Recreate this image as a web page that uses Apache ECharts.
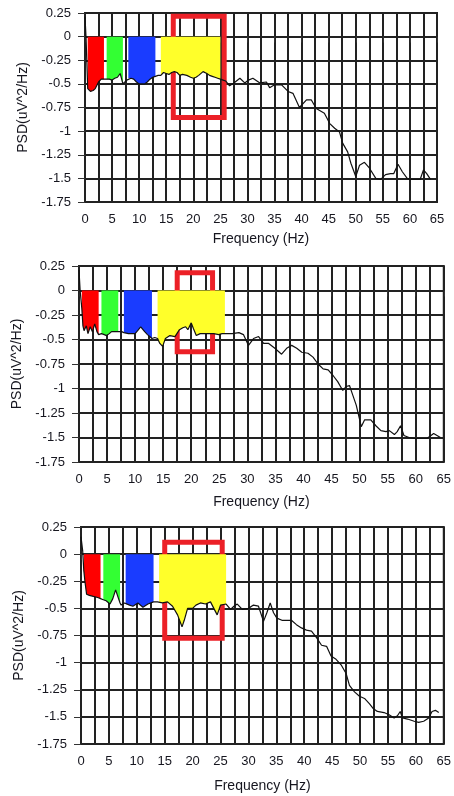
<!DOCTYPE html>
<html>
<head>
<meta charset="utf-8">
<script src="https://cdn.jsdelivr.net/npm/echarts@6/dist/echarts.min.js"></script>
<style>
  html, body { margin: 0; padding: 0; background: #fff; }
  #chart { width: 454px; height: 796px; }
</style>
</head>
<body>
<div id="chart"></div>
<script>
// PSD curves, [frequency Hz, PSD]
const psdTop = [
  [0, 0.21], [0.2, -0.02], [0.5, -0.55], [1, -0.58], [1.5, -0.57], [1.9, -0.55], [2.5, -0.48], [3, -0.45],
  [3.5, -0.45], [4, -0.45], [4.5, -0.45], [5, -0.46], [5.5, -0.44], [6, -0.43], [6.5, -0.39], [7, -0.5],
  [7.3, -0.52], [7.7, -0.46], [8, -0.44], [8.5, -0.44], [9, -0.45], [9.5, -0.48], [10, -0.5], [10.5, -0.5],
  [11, -0.5], [11.5, -0.48], [12, -0.45], [12.5, -0.43], [13, -0.42], [13.5, -0.41], [14, -0.41], [14.5, -0.38],
  [15, -0.39], [15.5, -0.4], [16, -0.38], [16.5, -0.37], [17, -0.38], [17.5, -0.41], [18, -0.4], [18.8, -0.41],
  [19.5, -0.43], [20, -0.44], [20.5, -0.43], [21, -0.41], [21.8, -0.37], [22.5, -0.39], [23, -0.41], [23.5, -0.42],
  [24, -0.43], [24.5, -0.44], [25, -0.45], [25.5, -0.46], [26, -0.47], [26.7, -0.52], [27.5, -0.49], [28.6, -0.44],
  [29.5, -0.49], [30.2, -0.46], [31, -0.44], [32.3, -0.49], [33.5, -0.48], [34.1, -0.54], [35, -0.51], [36.3, -0.51],
  [37.5, -0.58], [38.4, -0.6], [39.6, -0.75], [40.9, -0.67], [41.8, -0.67], [42.7, -0.76], [44.2, -0.81], [45.2, -0.92],
  [46.1, -0.97], [47, -1.01], [47.6, -1.13], [48.5, -1.22], [49.1, -1.34], [50, -1.48], [50.7, -1.36], [51.6, -1.33],
  [52.5, -1.39], [53.7, -1.5], [54.6, -1.51], [55.5, -1.46], [56.4, -1.45], [57, -1.45], [57.8, -1.35], [58.6, -1.43],
  [59.5, -1.5], [60.1, -1.51], [61.9, -1.51], [62.5, -1.41], [63.1, -1.45], [63.8, -1.51]
];
const psdMid = [
  [0, 0.21], [0.2, 0], [0.5, -0.18], [0.7, -0.36], [0.9, -0.41], [1.3, -0.36], [1.6, -0.44], [2, -0.37],
  [2.4, -0.42], [2.8, -0.34], [3.2, -0.42], [3.5, -0.45], [4, -0.44], [4.5, -0.45], [4.9, -0.46], [5.4, -0.44],
  [5.8, -0.42], [6.3, -0.42], [7, -0.42], [7.6, -0.42], [8, -0.43], [8.8, -0.44], [9.5, -0.44], [10, -0.44],
  [10.6, -0.4], [11, -0.37], [11.7, -0.42], [12.2, -0.45], [12.6, -0.47], [13, -0.49], [13.5, -0.48], [14, -0.49],
  [14.4, -0.54], [14.9, -0.57], [15.4, -0.49], [16.2, -0.46], [17.1, -0.47], [17.9, -0.4], [18.5, -0.38], [19, -0.37],
  [19.4, -0.4], [20, -0.33], [20.4, -0.39], [20.9, -0.46], [21.6, -0.44], [22.9, -0.44], [24, -0.44], [24.9, -0.45],
  [25.5, -0.44], [26, -0.44], [27.3, -0.44], [28.5, -0.43], [29.3, -0.45], [30.2, -0.56], [31.1, -0.49], [32, -0.47],
  [32.9, -0.54], [33.8, -0.54], [34.9, -0.59], [36.1, -0.65], [37, -0.59], [37.9, -0.56], [38.8, -0.59], [39.7, -0.63],
  [40.8, -0.64], [41.7, -0.68], [42.6, -0.75], [43.5, -0.8], [44.4, -0.81], [45.3, -0.87], [46.1, -0.93], [47, -1.02],
  [47.6, -0.98], [48.2, -0.97], [48.8, -1.07], [49.4, -1.17], [50.3, -1.39], [50.9, -1.32], [52, -1.32], [52.9, -1.38],
  [53.8, -1.43], [54.7, -1.44], [55.3, -1.43], [56.2, -1.47], [56.7, -1.44], [57.3, -1.38], [57.9, -1.48], [58.8, -1.5],
  [59.7, -1.51], [62, -1.51], [63.2, -1.46], [64.4, -1.5]
];
const psdLow = [
  [0, 0.16], [0.3, 0.03], [0.5, -0.15], [0.7, -0.25], [1, -0.37], [1.5, -0.38], [2.2, -0.39], [3, -0.4],
  [3.5, -0.41], [4, -0.42], [4.5, -0.43], [5.2, -0.46], [5.7, -0.41], [6.2, -0.33], [6.8, -0.42], [7, -0.45],
  [7.2, -0.47], [7.8, -0.45], [8, -0.46], [8.7, -0.47], [9.3, -0.48], [10.2, -0.45], [11.1, -0.49], [12, -0.46],
  [13, -0.44], [13.7, -0.44], [14, -0.44], [14.6, -0.45], [15.5, -0.44], [16.4, -0.48], [17.3, -0.56], [18.1, -0.67],
  [18.5, -0.61], [19.1, -0.5], [20, -0.5], [20.6, -0.47], [21.4, -0.45], [22.3, -0.46], [23.2, -0.44], [23.8, -0.5],
  [24.4, -0.56], [25, -0.47], [26, -0.46], [26.8, -0.51], [27.4, -0.48], [28, -0.46], [28.9, -0.51], [30, -0.5],
  [30.9, -0.47], [31.8, -0.48], [32.7, -0.62], [33.3, -0.54], [33.9, -0.45], [34.5, -0.54], [35.1, -0.59], [36, -0.61],
  [37.7, -0.61], [38.6, -0.65], [39.5, -0.68], [40.4, -0.7], [41.3, -0.71], [42.2, -0.77], [43.1, -0.84], [44, -0.85],
  [44.8, -0.94], [45.7, -0.97], [46.6, -1.02], [47.5, -1.1], [48.1, -1.21], [49, -1.27], [49.9, -1.31], [50.8, -1.33],
  [51.7, -1.38], [52.3, -1.42], [53.1, -1.45], [54.3, -1.46], [55.2, -1.48], [56.1, -1.51], [56.7, -1.49], [57.2, -1.45],
  [57.6, -1.51], [58.5, -1.52], [59.7, -1.54], [60.5, -1.55], [61.4, -1.54], [62.3, -1.51], [62.9, -1.45], [63.5, -1.44],
  [64.1, -1.46]
];

// EEG bands (delta, theta, alpha, beta) as [from Hz, to Hz]
const bandsTop = [[0.5, 3.5], [4, 7], [8, 13], [14, 25]];
const bandsMid = [[0.5, 3.5], [4, 7], [8, 13], [14, 26]];
const bandsLow = [[0.5, 3.5], [4, 7], [8, 13], [14, 26]];
const bandColors = ['#ff0000', '#33ff33', '#1a3cff', '#ffff2a'];

// highlighted box per panel: [[fromHz, topPSD], [toHz, bottomPSD]]
const boxTop = [[16.3, 0.215], [25.7, -0.855]];
const boxMid = [[17.5, 0.18], [23.8, -0.625]];
const boxLow = [[15.0, 0.11], [25.3, -0.775]];

const yTicks = { min: -1.75, max: 0.25, step: 0.25 };
const xTicks = { min: 0, max: 65, step: 5 };

const panels = [
  { data: psdTop, bands: bandsTop, box: boxTop, grid: { left: 85, right: 17, top: 13, height: 189 }, yGap: 50, xGap: 30 },
  { data: psdMid, bands: bandsMid, box: boxMid, grid: { left: 79, right: 7, top: 266, height: 196 }, yGap: 51, xGap: 33 },
  { data: psdLow, bands: bandsLow, box: boxLow, grid: { left: 81, right: 7, top: 527, height: 217 }, yGap: 53, xGap: 35 }
];

const chart = echarts.init(document.getElementById('chart'));

const lineColor = '#222';
const labelStyle = { fontFamily: 'Liberation Sans', fontSize: 13, color: '#16161f' };

const grids = [], xAxes = [], yAxes = [], series = [];

panels.forEach((p, i) => {
  grids.push(Object.assign({
    show: true, borderColor: lineColor, borderWidth: 2, backgroundColor: '#fff'
  }, p.grid));

  xAxes.push({
    gridIndex: i, type: 'value', min: xTicks.min, max: xTicks.max, interval: xTicks.step,
    name: 'Frequency (Hz)', nameLocation: 'middle', nameGap: p.xGap,
    nameTextStyle: { fontFamily: 'Liberation Sans', fontSize: 14, color: '#16161f' },
    axisLine: { show: true, lineStyle: { color: lineColor, width: 2 } },
    axisTick: { show: true, length: 6, lineStyle: { color: '#333', width: 1 } },
    axisLabel: Object.assign({ margin: 11 }, labelStyle),
    splitLine: { show: true, lineStyle: { color: lineColor, width: 2 } },
    minorTick: { show: false, splitNumber: 2 },
    minorSplitLine: { show: true, lineStyle: { color: lineColor, width: 2 } }
  });

  yAxes.push({
    gridIndex: i, type: 'value', min: yTicks.min, max: yTicks.max, interval: yTicks.step,
    name: 'PSD(uV^2/Hz)', nameLocation: 'middle', nameGap: p.yGap,
    nameTextStyle: { fontFamily: 'Liberation Sans', fontSize: 14, color: '#16161f' },
    axisLine: { show: true, lineStyle: { color: lineColor, width: 2 } },
    axisTick: { show: true, length: 7, lineStyle: { color: '#333', width: 1 } },
    axisLabel: Object.assign({ margin: 14 }, labelStyle),
    splitLine: { show: true, lineStyle: { color: lineColor, width: 2 } }
  });

  // coloured band fills between 0 and the curve
  p.bands.forEach((b, k) => {
    series.push({
      type: 'line', xAxisIndex: i, yAxisIndex: i, z: 2,
      data: p.data.filter(d => d[0] >= b[0] && d[0] <= b[1]),
      showSymbol: false, symbol: 'none', silent: true,
      lineStyle: { width: 0, opacity: 0 },
      areaStyle: { color: bandColors[k], opacity: 1, origin: 0 }
    });
  });

  series.push({
    type: 'line', xAxisIndex: i, yAxisIndex: i, z: 4,
    data: p.data, showSymbol: false, symbol: 'none', silent: true,
    lineStyle: { color: '#111', width: 1.2 },
    markArea: {
      silent: true,
      itemStyle: { color: 'rgba(0,0,0,0)', borderColor: '#ec2027', borderWidth: 5 },
      data: [[{ coord: p.box[0] }, { coord: p.box[1] }]]
    }
  });
});

chart.setOption({
  animation: false,
  backgroundColor: '#fff',
  grid: grids,
  xAxis: xAxes,
  yAxis: yAxes,
  series: series
});
</script>
</body>
</html>
